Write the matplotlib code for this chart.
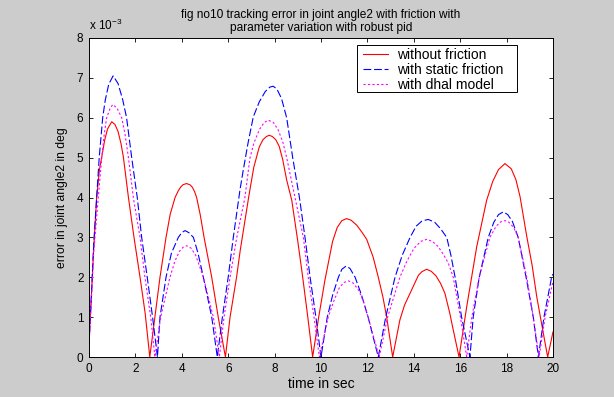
import matplotlib
matplotlib.use("Agg")
import matplotlib.pyplot as plt
from matplotlib.patches import Rectangle

# values in units of 1e-3 deg
t_red = [0, 0.1, 0.2, 0.33, 0.45, 0.55, 0.68, 0.8, 0.98, 1.12, 1.25, 1.38, 1.48, 1.7, 1.94, 2.2, 2.42, 2.62,
         2.84, 3.06, 3.32, 3.5, 3.71, 3.85, 3.95, 4.05, 4.2, 4.35, 4.45, 4.55, 4.64, 4.8, 4.96, 5.29, 5.57, 5.88,
         6.08, 6.36, 6.52, 6.88, 7.1, 7.34, 7.5, 7.65, 7.77, 7.9, 8.05, 8.2, 8.35, 8.52, 8.74, 9.0, 9.2, 9.42, 9.64,
         9.9, 10.17, 10.5, 10.7, 10.9, 11.1, 11.3, 11.55, 11.8, 11.97, 12.25, 12.47, 12.67, 12.83, 13.09,
         13.4, 13.6, 13.84, 14.2, 14.35, 14.55, 14.75, 14.95, 15.15, 15.34, 15.55, 15.7, 15.95,
         16.28, 16.71, 17.14, 17.4, 17.65, 17.93, 18.2, 18.4, 18.58, 18.87, 19.1, 19.3, 19.55, 19.77, 20.0]
v_red = [0.4, 1.5, 2.7, 4.0, 4.7, 5.02, 5.45, 5.72, 5.9, 5.83, 5.66, 5.35, 5.02, 4.0, 3.0, 2.0, 1.1, 0.0,
         1.0, 2.0, 3.0, 3.58, 4.0, 4.17, 4.26, 4.32, 4.35, 4.32, 4.26, 4.15, 4.0, 3.55, 3.0, 2.0, 1.0, 0.0,
         1.0, 2.0, 2.68, 4.0, 4.75, 5.27, 5.45, 5.53, 5.56, 5.53, 5.45, 5.28, 4.95, 4.44, 3.93, 2.9, 2.05, 1.05, 0.0,
         1.0, 1.93, 2.9, 3.25, 3.42, 3.47, 3.43, 3.3, 3.1, 2.95, 2.5, 2.0, 1.5, 1.0, 0.0,
         0.93, 1.3, 1.6, 2.05, 2.14, 2.2, 2.15, 2.04, 1.85, 1.6, 1.1, 0.68, 0.0,
         1.26, 2.76, 3.93, 4.4, 4.7, 4.85, 4.72, 4.45, 4.02, 3.02, 2.3, 1.51, 0.7, 0.0, 0.63]

t_blue = [0, 0.1, 0.2, 0.33, 0.44, 0.59, 0.7, 0.85, 1.04, 1.25, 1.45, 1.62, 1.84, 2.08, 2.27, 2.51, 2.74, 2.95,
          3.06, 3.32, 3.55, 3.85, 4.0, 4.14, 4.3, 4.5, 4.7, 4.93, 5.29, 5.53,
          5.75, 6.0, 6.22, 6.51, 6.65, 6.85, 7.08, 7.34, 7.6, 7.8, 7.94, 8.1, 8.3, 8.52, 8.78, 9.07, 9.31, 9.53, 9.78, 10.0,
          10.27, 10.5, 10.75, 10.9, 11.08, 11.25, 11.47, 11.75, 12.03, 12.47,
          12.79, 13.19, 13.5, 13.84, 14.1, 14.35, 14.62, 14.9, 15.15, 15.42, 15.6, 15.78, 16.06, 16.42,
          16.56, 16.82, 17.21, 17.45, 17.65, 17.86, 18.05, 18.25, 18.5, 18.84, 19.15, 19.37, 19.61, 19.94, 20.0]
v_blue = [0.3, 1.5, 2.8, 4.0, 5.0, 6.0, 6.44, 6.84, 7.05, 6.86, 6.46, 6.0, 5.0, 4.0, 3.0, 2.0, 1.0, 0.0,
          1.0, 2.0, 2.6, 3.0, 3.12, 3.17, 3.12, 3.0, 2.6, 2.0, 1.0, 0.0,
          1.0, 2.0, 3.0, 4.2, 4.69, 5.35, 6.02, 6.4, 6.66, 6.77, 6.79, 6.72, 6.48, 6.0, 5.0, 4.0, 3.0, 2.0, 1.0, 0.0,
          1.0, 1.55, 2.0, 2.2, 2.28, 2.22, 2.0, 1.55, 1.0, 0.0,
          1.0, 2.0, 2.55, 3.0, 3.28, 3.41, 3.45, 3.38, 3.22, 3.0, 2.55, 2.0, 1.0, 0.0,
          1.0, 2.0, 3.0, 3.38, 3.57, 3.64, 3.57, 3.4, 3.0, 2.0, 1.0, 0.0, 1.0, 2.0, 2.08]

t_mag = [0, 0.1, 0.2, 0.4, 0.55, 0.65, 0.76, 0.9, 1.02, 1.2, 1.41, 1.55, 1.7, 1.91, 2.2, 2.41, 2.66, 2.84,
         3.09, 3.49, 3.7, 3.9, 4.05, 4.21, 4.4, 4.6, 4.93, 5.36, 5.62,
         5.82, 6.08, 6.37, 6.72, 6.94, 7.1, 7.34, 7.55, 7.73, 7.95, 8.15, 8.35, 8.52, 8.88, 9.24, 9.45, 9.7, 9.93,
         10.31, 10.55, 10.8, 11.0, 11.18, 11.4, 11.65, 11.85, 12.03, 12.51,
         12.87, 13.4, 13.7, 14.0, 14.3, 14.55, 14.8, 15.05, 15.3, 15.49, 15.7, 16.01, 16.28,
         16.5, 16.82, 17.28, 17.55, 17.75, 17.93, 18.1, 18.3, 18.5, 18.87, 19.15, 19.4, 19.66, 20.0]
v_mag = [0.3, 1.4, 2.6, 4.0, 5.0, 5.55, 6.0, 6.22, 6.33, 6.25, 6.0, 5.6, 5.0, 4.0, 3.0, 2.0, 1.0, 0.0,
         1.0, 2.0, 2.4, 2.65, 2.75, 2.79, 2.73, 2.55, 2.0, 1.0, 0.0,
         1.0, 2.0, 3.0, 4.0, 5.0, 5.35, 5.7, 5.88, 5.94, 5.88, 5.7, 5.4, 5.0, 4.0, 3.0, 2.0, 1.0, 0.0,
         1.0, 1.4, 1.75, 1.87, 1.91, 1.85, 1.65, 1.35, 1.0, 0.0,
         1.0, 2.0, 2.4, 2.72, 2.9, 2.95, 2.9, 2.77, 2.55, 2.35, 2.0, 1.0, 0.0,
         1.0, 2.0, 3.0, 3.28, 3.39, 3.42, 3.38, 3.25, 3.0, 2.0, 1.0, 0.0, 1.0, 1.9]

labels = ["without friction", "with static friction", "with dhal model"]
x_ticks = [0, 2, 4, 6, 8, 10, 12, 14, 16, 18, 20]
y_ticks = [0, 1, 2, 3, 4, 5, 6, 7, 8]

plt.rcParams['font.family'] = ['Liberation Sans', 'DejaVu Sans']
plt.rcParams['mathtext.fontset'] = 'custom'
plt.rcParams['mathtext.rm'] = 'Liberation Sans'

fig = plt.figure(figsize=(6.14, 3.97), dpi=100, facecolor='#cccccc')
ax = fig.add_axes([89/614, 40/397, 464/614, 319/397])
ax.set_facecolor('white')

ax.plot(t_red, v_red, color='#ff0000', lw=0.8, ls='-', label=labels[0])
ax.plot(t_blue, v_blue, color='#0000ff', lw=0.8, ls=(0, (7, 2.5)), label=labels[1])
ax.plot(t_mag, v_mag, color='#ff00ff', lw=0.8, ls=(0, (2, 2)), label=labels[2])

ax.set_xlim(0, 20)
ax.set_ylim(0, 8)
ax.set_xticks(x_ticks)
ax.set_yticks(y_ticks)
ax.tick_params(direction='in', top=True, right=True, labelsize=8.5, length=3, width=0.6, pad=4)
for s in ax.spines.values():
    s.set_linewidth(0.7)

ax.set_xlabel('time in sec', fontsize=10, labelpad=2)
ax.set_ylabel('error in joint angle2 in deg', fontsize=8.7, labelpad=6)
ax.set_title('fig no10 tracking error in joint angle2 with friction with\nparameter variation with robust pid',
             fontsize=8.6, pad=5, linespacing=1.15)
ax.text(0.0, 1.015, 'x 10$^{\\mathregular{-3}}$', transform=ax.transAxes, fontsize=8.5,
        ha='left', va='bottom')

# legend box (layout, axes fraction)
box_x0, box_x1, box_y0, box_y1 = 0.5776, 0.9224, 0.8307, 0.978
ax.add_patch(Rectangle((box_x0, box_y0), box_x1 - box_x0, box_y1 - box_y0,
                       transform=ax.transAxes, facecolor='white', edgecolor='black',
                       lw=0.7, zorder=4))
leg = ax.legend(loc='upper left', bbox_to_anchor=(box_x0 + 4.5/464, box_y1 - 1.5/319), fontsize=10,
                frameon=False, borderpad=0.12, borderaxespad=0, handlelength=1.8,
                handletextpad=0.63, labelspacing=0.05)
leg.set_zorder(5)

fig.savefig('out.png', dpi=100, facecolor=fig.get_facecolor())
